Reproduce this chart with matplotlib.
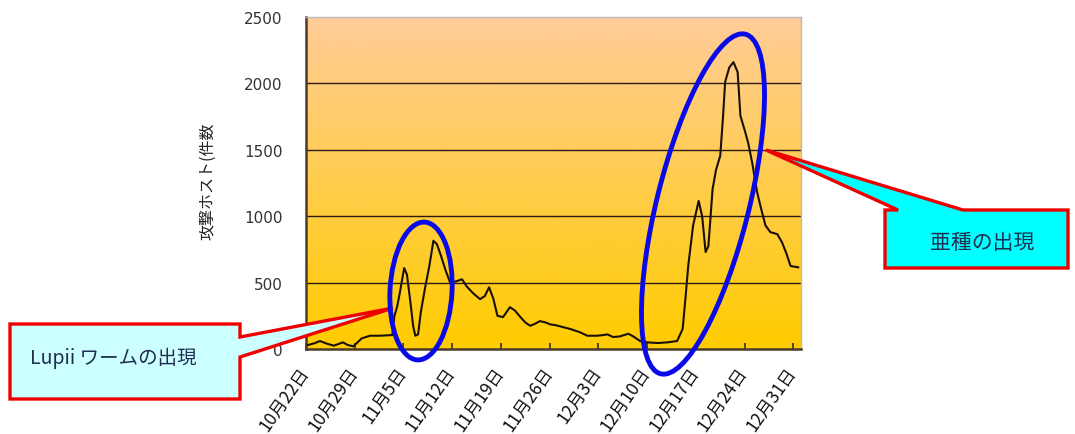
import numpy as np
import matplotlib
matplotlib.use("Agg")
import matplotlib.pyplot as plt
import matplotlib.transforms as mtrans
from matplotlib.patches import Ellipse, Polygon

plt.rcParams['font.family'] = ['Noto Sans CJK JP', 'DejaVu Sans']

# days since 10月22日
days = [0.3, 1.3, 2.0, 3.0, 4.0, 5.3, 6.0, 6.8, 8.0, 9.2, 10.6, 12.4, 12.7, 13.1, 13.5,
        14.1, 14.5, 15.0, 15.4, 15.7, 16.1, 16.5, 17.1, 17.7, 18.3, 18.8, 19.4, 20.0,
        20.7, 21.6, 22.4, 23.1, 24.0, 25.0, 25.7, 26.3, 26.9, 27.5, 28.3, 29.3, 30.0,
        30.8, 31.5, 32.2, 32.9, 33.6, 34.4, 35.1, 35.8, 36.9, 38.0, 39.4, 40.4, 41.8,
        42.7, 43.3, 43.7, 44.1, 45.1, 46.3, 47.0, 48.0, 49.0, 50.5, 51.9, 53.3, 54.1,
        54.5, 54.9, 55.6, 56.4, 56.9, 57.4, 57.8, 58.4, 58.9, 59.5, 59.9, 60.2, 60.8,
        61.4, 62.0, 62.4, 63.0, 63.5, 64.1, 64.8, 65.4, 66.0, 66.7, 67.7, 68.4, 69.0,
        69.6, 70.7]
hosts = [30, 45, 60, 40, 25, 50, 30, 20, 80, 100, 100, 105, 250, 320, 430,
         610, 560, 350, 170, 100, 110, 280, 460, 620, 815, 790, 700, 600,
         500, 510, 525, 470, 420, 375, 400, 465, 380, 250, 240, 315, 290,
         240, 200, 175, 190, 210, 200, 185, 180, 165, 150, 125, 100, 100,
         105, 110, 100, 90, 95, 115, 95, 60, 50, 45, 50, 60, 150,
         380, 625, 930, 1115, 1000, 730, 775, 1205, 1350, 1455, 1750, 2010, 2120,
         2160, 2085, 1755, 1650, 1555, 1400, 1180, 1050, 930, 880, 865, 800, 720,
         625, 615]
tick_days = [0, 7, 14, 21, 28, 35, 42, 49, 56, 63, 70]
tick_labels = ['10月22日', '10月29日', '11月5日', '11月12日', '11月19日', '11月26日',
               '12月3日', '12月10日', '12月17日', '12月24日', '12月31日']
y_ticks = [0, 500, 1000, 1500, 2000, 2500]
y_label = '攻撃ホスト(件数'
callout1 = 'Lupii ワームの出現'
callout2 = '亜種の出現'

W, H = 1075, 435
fig = plt.figure(figsize=(W / 100, H / 100), dpi=100)
fig.patch.set_facecolor('white')
ax = fig.add_axes([306 / W, (H - 350) / H, (801 - 306) / W, (350 - 18) / H])

# gradient background
grad = np.linspace(0, 1, 256).reshape(-1, 1)
top = np.array([255, 204, 153]) / 255
bot = np.array([255, 204, 0]) / 255
img = top[None, None, :] * (1 - grad[:, :, None]) + bot[None, None, :] * grad[:, :, None]
ax.imshow(img, extent=[0, 1, 0, 1], transform=ax.transAxes, aspect='auto', zorder=0)

ax.set_xlim(0, 71.1)
ax.set_ylim(0, 2500)
for v in y_ticks[1:-1]:
    ax.axhline(v, color='#2a1a10', lw=1.0, zorder=1)

ax.plot(days, hosts, color='#1a1008', lw=1.5, zorder=3)

ax.set_yticks(y_ticks)
ax.set_yticklabels([str(v) for v in y_ticks], fontsize=11, color='#333333',
                   family=['DejaVu Sans'])
ax.tick_params(axis='y', length=0, pad=17)
ax.set_xticks(tick_days)
ax.set_xticklabels(tick_labels, rotation=55, ha='right', va='top',
                   rotation_mode='anchor', fontsize=12.5, color='#111111')
ax.tick_params(axis='x', direction='in', length=4, width=1.2, color='#3a2a1a', pad=10)
shift = mtrans.ScaledTranslation(-8 / 100, 0, fig.dpi_scale_trans)
for lbl in ax.get_xticklabels():
    lbl.set_transform(lbl.get_transform() + shift)

for s in ['left', 'bottom']:
    ax.spines[s].set_color('#4a3a2a')
    ax.spines[s].set_linewidth(1.8)
for s in ['top', 'right']:
    ax.spines[s].set_color('#bbbbbb')
    ax.spines[s].set_linewidth(1.0)

fig.text(208 / W, 1 - 181 / H, y_label, rotation=90, ha='center', va='center',
         fontsize=11.5, color='#222222')

# annotations in pixel space (inches = px/100)
tr = fig.dpi_scale_trans
def P(x, y):
    return (x / 100, (H - y) / 100)

poly1 = Polygon([P(10, 325), P(240, 325), P(240, 338), P(393, 309), P(240, 358),
                 P(240, 400), P(10, 400)], closed=True, transform=tr,
                facecolor='#ccffff', edgecolor='#ee0000', lw=2.4, zorder=11)
poly2 = Polygon([P(885, 211), P(898, 211), P(766, 151), P(963, 211), P(1068, 211),
                 P(1068, 269), P(885, 269)], closed=True, transform=tr,
                facecolor='#00ffff', edgecolor='#ee0000', lw=2.4, zorder=11)
fig.add_artist(poly1)
fig.add_artist(poly2)
fig.text(30 / W, 1 - 358 / H, callout1, ha='left', va='center', fontsize=14,
         color='#1f2f4f', zorder=12)
fig.text(982 / W, 1 - 243 / H, callout2, ha='center', va='center', fontsize=15,
         color='#1f2f4f', zorder=12)

e1 = Ellipse(P(421, 292), 62 / 100, 138 / 100, angle=-3, transform=tr,
             fill=False, edgecolor='#0a0ae6', lw=3.5, zorder=13)
e2 = Ellipse(P(703, 205), 350 / 100, 92 / 100, angle=76, transform=tr,
             fill=False, edgecolor='#0a0ae6', lw=3.5, zorder=13)
fig.add_artist(e1)
fig.add_artist(e2)

fig.savefig('out.png', dpi=100)
